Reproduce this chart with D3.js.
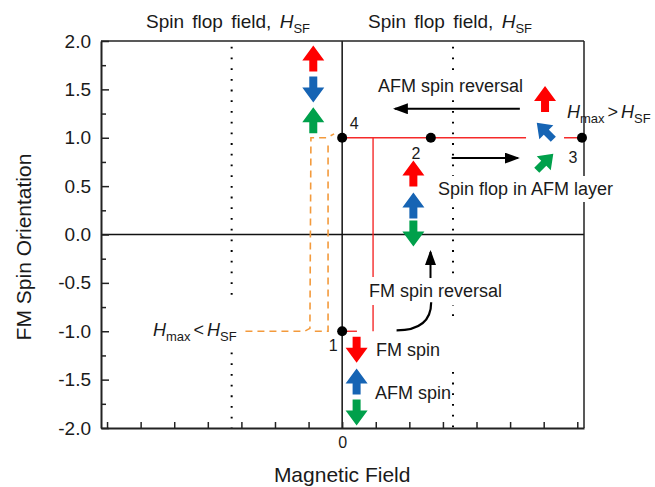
<!DOCTYPE html>
<html>
<head>
<meta charset="utf-8">
<script src="https://cdn.jsdelivr.net/npm/d3@7"></script>
<style>
  body { margin: 0; background: #fff; }
  svg { display: block; font-family: "Liberation Sans", Arial, sans-serif; }
</style>
</head>
<body>
<div id="chart"></div>
<script>
// axis values
const yTicks = [-2.0, -1.5, -1.0, -0.5, 0.0, 0.5, 1.0, 1.5, 2.0];
const yMinorTicks = [-1.75, -1.25, -0.75, -0.25, 0.25, 0.75, 1.25, 1.75];
const xTicks = [-7, -6, -5, -4, -3, -2, -1, 0, 1, 2, 3, 4, 5, 6, 7];
const xTickLabels = ["0"];  // only zero gets a label

// spin flop field (dotted lines), visible y runs
const spinFlopX = [-3.29, 3.30];
const spinFlopLeftRuns = [[1.94, -0.70], [-1.22, -2.0]];
const spinFlopRightRuns = [[1.94, -0.90], [-1.42, -2.0]];

// FM loop for Hmax > HSF (red)
const redLoopLow = [[0, -1], [0.44, -1]];
const redLoopRise = [[0.92, -1], [0.92, 1]];
const redLoopTop = [[0, 1], [7.14, 1]];

// FM loop for Hmax < HSF (orange dashed)
const orangeLoopOuter = [[-2.88, -1], [-1.12, -1], [-0.96, -0.97], [-0.93, 1], [-0.45, 1], [-0.24, 1.04]];
const orangeLoopInner = [[-0.42, 0.92], [-0.42, -1], [-0.93, -1]];

// numbered states on the loop
const stateX = [0, 2.64, 7.14, 0];
const stateY = [-1, 1, 1, 1];
const stateNames = ["1", "2", "3", "4"];

// spin arrows: one group per field position, layers FM / AFM top / AFM bottom
const spinLayers = ["FM", "AFM top", "AFM bottom"];
const spinGroupX = [-0.86, 2.12, 6.04, 0.43];
const spinGroupY = [[1.82, 1.50, 1.18], [0.63, 0.30, 0.01], [1.40, 1.07, 0.75], [-1.19, -1.52, -1.84]];
const spinGroupAngle = [[0, 180, 0], [0, 0, 180], [0, -45, 45], [180, 0, 180]];

// process arrows
const afmReversalArrow = [[5.29, 1.30], [1.57, 1.30]];
const spinFlopArrow = [[3.26, 0.79], [5.23, 0.79]];
const fmReversalHook = [[1.62, -0.99], [2.65, -0.99], [2.65, -0.70]];
const fmReversalArrow = [[2.63, -0.45], [2.63, -0.18]];

const width = 655;
const height = 487;
const margin = { top: 41, right: 71, bottom: 59, left: 101 };
const textColor = "#1a1a1a";

const x = d3.scaleLinear().domain([-7.18, 7.2]).range([margin.left, width - margin.right]);
const y = d3.scaleLinear().domain([-2, 2]).range([height - margin.bottom, margin.top]);

const layerColor = d3.scaleOrdinal()
    .domain(spinLayers)
    .range(["#ff0000", "#1664b4", "#00a04b"]);

const svg = d3.select("#chart")
    .append("svg")
    .attr("width", width)
    .attr("height", height);

svg.append("defs").append("marker")
    .attr("id", "head")
    .attr("markerUnits", "userSpaceOnUse")
    .attr("markerWidth", 15)
    .attr("markerHeight", 11)
    .attr("refX", 13)
    .attr("refY", 5.5)
    .attr("orient", "auto")
    .append("path")
    .attr("d", "M0,0 L15,5.5 L0,11 Z")
    .attr("fill", "#000");

const line = d3.line().x(d => x(d[0])).y(d => y(d[1]));

// dotted spin flop lines
[spinFlopLeftRuns, spinFlopRightRuns].forEach((runs, i) => {
    runs.forEach(r => {
        svg.append("line")
            .attr("x1", x(spinFlopX[i])).attr("x2", x(spinFlopX[i]))
            .attr("y1", y(r[0])).attr("y2", y(r[1]))
            .attr("stroke", "#000")
            .attr("stroke-width", 2)
            .attr("stroke-dasharray", "1.8 8.9");
    });
});

// zero lines
svg.append("line")
    .attr("x1", x(0)).attr("x2", x(0))
    .attr("y1", y(2)).attr("y2", y(-2))
    .attr("stroke", "#111").attr("stroke-width", 1.5);
svg.append("line")
    .attr("x1", x(-7.18)).attr("x2", x(7.2))
    .attr("y1", y(0)).attr("y2", y(0))
    .attr("stroke", "#111").attr("stroke-width", 1.5);

// orange dashed loop
[orangeLoopOuter, orangeLoopInner].forEach(pts => {
    svg.append("path")
        .datum(pts)
        .attr("d", line)
        .attr("fill", "none")
        .attr("stroke", "#f39a3c")
        .attr("stroke-width", 1.6)
        .attr("stroke-dasharray", "7 5");
});

// red loop
[redLoopLow, redLoopRise, redLoopTop].forEach(pts => {
    svg.append("path")
        .datum(pts)
        .attr("d", line)
        .attr("fill", "none")
        .attr("stroke", "#f52a2a")
        .attr("stroke-width", 1.4);
});

// frame and axes
svg.append("line")
    .attr("x1", x(-7.18)).attr("x2", x(7.2))
    .attr("y1", y(2)).attr("y2", y(2))
    .attr("stroke", "#222").attr("stroke-width", 1.5);
svg.append("line")
    .attr("x1", x(7.2)).attr("x2", x(7.2))
    .attr("y1", y(2)).attr("y2", y(-2))
    .attr("stroke", "#222").attr("stroke-width", 1.5);

const yAxis = svg.append("g")
    .attr("transform", `translate(${margin.left},0)`)
    .call(d3.axisLeft(y).tickValues(yTicks).tickSize(-8).tickSizeOuter(0).tickPadding(10)
        .tickFormat(d => d.toFixed(1)));
svg.append("g")
    .attr("transform", `translate(${margin.left},0)`)
    .call(d3.axisLeft(y).tickValues(yMinorTicks).tickSize(-5).tickSizeOuter(0).tickFormat(""))
    .select(".domain").remove();

const xAxis = svg.append("g")
    .attr("transform", `translate(0,${height - margin.bottom})`)
    .call(d3.axisBottom(x).tickValues(xTicks).tickSize(-6).tickSizeOuter(0).tickPadding(9)
        .tickFormat(d => xTickLabels.includes(String(d)) ? String(d) : ""));

svg.selectAll(".domain").attr("stroke", "#222").attr("stroke-width", 2);
svg.selectAll(".tick line").attr("stroke", "#222").attr("stroke-width", 1.5);
yAxis.selectAll("text").style("font-size", "19px").attr("fill", textColor);
xAxis.selectAll("text").style("font-size", "16px").attr("fill", textColor);
svg.selectAll("g").attr("font-family", null);

// text helper: parts are [text, kind, dx], kind "it" or "sub"
function richText(parts, px, py, size, anchor, pad, wordSpacing) {
    const t = svg.append("text")
        .attr("x", px).attr("y", py)
        .attr("text-anchor", anchor || "start")
        .attr("fill", textColor)
        .style("font-size", size + "px");
    if (wordSpacing) t.style("word-spacing", wordSpacing + "px");
    let shifted = false;
    parts.forEach(p => {
        const ts = t.append("tspan").text(p[0]);
        if (p[1] === "it") ts.style("font-style", "italic");
        if (p[1] === "sub") {
            ts.style("font-size", Math.round(size * 0.7) + "px").attr("dy", shifted ? 0 : 5);
            shifted = true;
        } else if (shifted) {
            ts.attr("dy", -5);
            shifted = false;
        }
        if (p[2]) ts.attr("dx", p[2]);
    });
    if (pad) {
        const b = t.node().getBBox();
        svg.insert("rect", () => t.node())
            .attr("x", b.x - pad[0]).attr("y", b.y - pad[1])
            .attr("width", b.width + 2 * pad[0]).attr("height", b.height + 2 * pad[1])
            .attr("fill", "#fff");
    }
    return t;
}

richText([["Spin flop field, "], ["H", "it"], ["SF", "sub"]], 228, 28, 19, "middle", null, 3);
richText([["Spin flop field, "], ["H", "it"], ["SF", "sub"]], 450, 28, 19, "middle", null, 3);
richText([["AFM spin reversal"]], 378, 92, 18, "start", [2, 3]);
richText([["H", "it"], ["max", "sub"], [">", null, 3], ["H", "it", 3], ["SF", "sub"]], 567, 118, 18, "start");
richText([["Spin flop in AFM layer"]], 438, 195, 18, "start", [2, 3]);
richText([["FM spin reversal"]], 369, 297, 18, "start", [2, 4]);
richText([["FM spin"]], 376, 356, 18, "start");
richText([["AFM spin"]], 375, 399, 18, "start");
richText([["H", "it"], ["max", "sub"], ["<", null, 3], ["H", "it", 3], ["SF", "sub"]], 153, 336, 18, "start", [3, 4]);

// axis titles
svg.append("text")
    .attr("x", x(0)).attr("y", 482)
    .attr("text-anchor", "middle")
    .attr("fill", textColor)
    .style("font-size", "21px")
    .text("Magnetic Field");
svg.append("text")
    .attr("transform", "translate(31,247) rotate(-90)")
    .attr("text-anchor", "middle")
    .attr("fill", textColor)
    .style("font-size", "21px")
    .text("FM Spin Orientation");

// process arrows
[afmReversalArrow, spinFlopArrow, fmReversalArrow].forEach(pts => {
    svg.append("path")
        .datum(pts)
        .attr("d", line)
        .attr("fill", "none")
        .attr("stroke", "#000")
        .attr("stroke-width", 2)
        .attr("marker-end", "url(#head)");
});
const hook = d3.path();
hook.moveTo(x(fmReversalHook[0][0]), y(fmReversalHook[0][1]));
hook.quadraticCurveTo(x(fmReversalHook[1][0]), y(fmReversalHook[1][1]),
    x(fmReversalHook[2][0]), y(fmReversalHook[2][1]));
svg.append("path")
    .attr("d", hook.toString())
    .attr("fill", "none")
    .attr("stroke", "#000")
    .attr("stroke-width", 2.2);

// spin arrows
const arrowShape = "M0,-13 L11,2 L4,2 L4,13 L-4,13 L-4,2 L-11,2 Z";
spinGroupX.forEach((gx, gi) => {
    spinLayers.forEach((layer, li) => {
        const a = spinGroupAngle[gi][li];
        const diagonal = a % 90 !== 0;
        const g = svg.append("g")
            .attr("transform", `translate(${x(gx)},${y(spinGroupY[gi][li])})`);
        if (diagonal) {
            g.append("rect")
                .attr("x", -19).attr("y", -10).attr("width", 38).attr("height", 20)
                .attr("fill", "#fff");
        }
        g.append("path")
            .attr("d", arrowShape)
            .attr("transform", `rotate(${a}) scale(${diagonal ? 0.9 : 1})`)
            .attr("fill", layerColor(layer));
    });
});

// numbered states
svg.selectAll(".state")
    .data(stateNames)
    .enter()
    .append("circle")
    .attr("class", "state")
    .attr("cx", (d, i) => x(stateX[i]))
    .attr("cy", (d, i) => y(stateY[i]))
    .attr("r", 5)
    .attr("fill", "#000");

const stateLabelOffset = [[-9, 20], [-15, 21], [-9, 25], [12, -9]];
svg.selectAll(".state-label")
    .data(stateNames)
    .enter()
    .append("text")
    .attr("class", "state-label")
    .attr("x", (d, i) => x(stateX[i]) + stateLabelOffset[i][0])
    .attr("y", (d, i) => y(stateY[i]) + stateLabelOffset[i][1])
    .attr("text-anchor", "middle")
    .attr("fill", textColor)
    .style("font-size", "16px")
    .text(d => d);
</script>
</body>
</html>
